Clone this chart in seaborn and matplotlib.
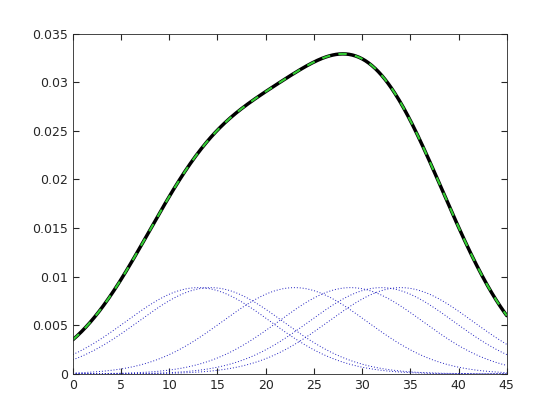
import numpy as np
import matplotlib
matplotlib.use("Agg")
import matplotlib.pyplot as plt
import seaborn as sns

centers = [13.0, 14.3, 23.0, 28.8, 32.0, 34.0]
bandwidth = 7.5
weight = 1.0 / len(centers)

sns.set_style("white")
x = np.linspace(0, 45, 400)
fig, ax = plt.subplots(figsize=(5.6, 4.2), dpi=100)
total = np.zeros_like(x)
for c in centers:
    k = weight * np.exp(-0.5 * ((x - c) / bandwidth) ** 2) / (bandwidth * np.sqrt(2 * np.pi))
    total += k
    sns.lineplot(x=x, y=k, ax=ax, color="#2020c0", linestyle=(0, (1, 2)), linewidth=0.7)
sns.lineplot(x=x, y=total, ax=ax, color="black", linewidth=2.5)
sns.lineplot(x=x, y=total, ax=ax, color="#33cc33", linestyle=(0, (4, 4)), linewidth=1.5)

ax.set_xlim(0, 45)
ax.set_ylim(0, 0.035)
ax.set_xticks(np.arange(0, 46, 5))
ax.set_yticks(np.arange(0, 0.0351, 0.005))
ax.set_yticklabels(["0", "0.005", "0.01", "0.015", "0.02", "0.025", "0.03", "0.035"])
ax.tick_params(direction="in", length=4, labelsize=9, top=True, right=True)
ax.tick_params(axis="both", which="both", bottom=True, left=True)
for s in ax.spines.values():
    s.set_color("#262626")
    s.set_linewidth(0.6)
fig.subplots_adjust(left=0.13, right=0.905, top=0.92, bottom=0.11)
fig.savefig("out.png")
